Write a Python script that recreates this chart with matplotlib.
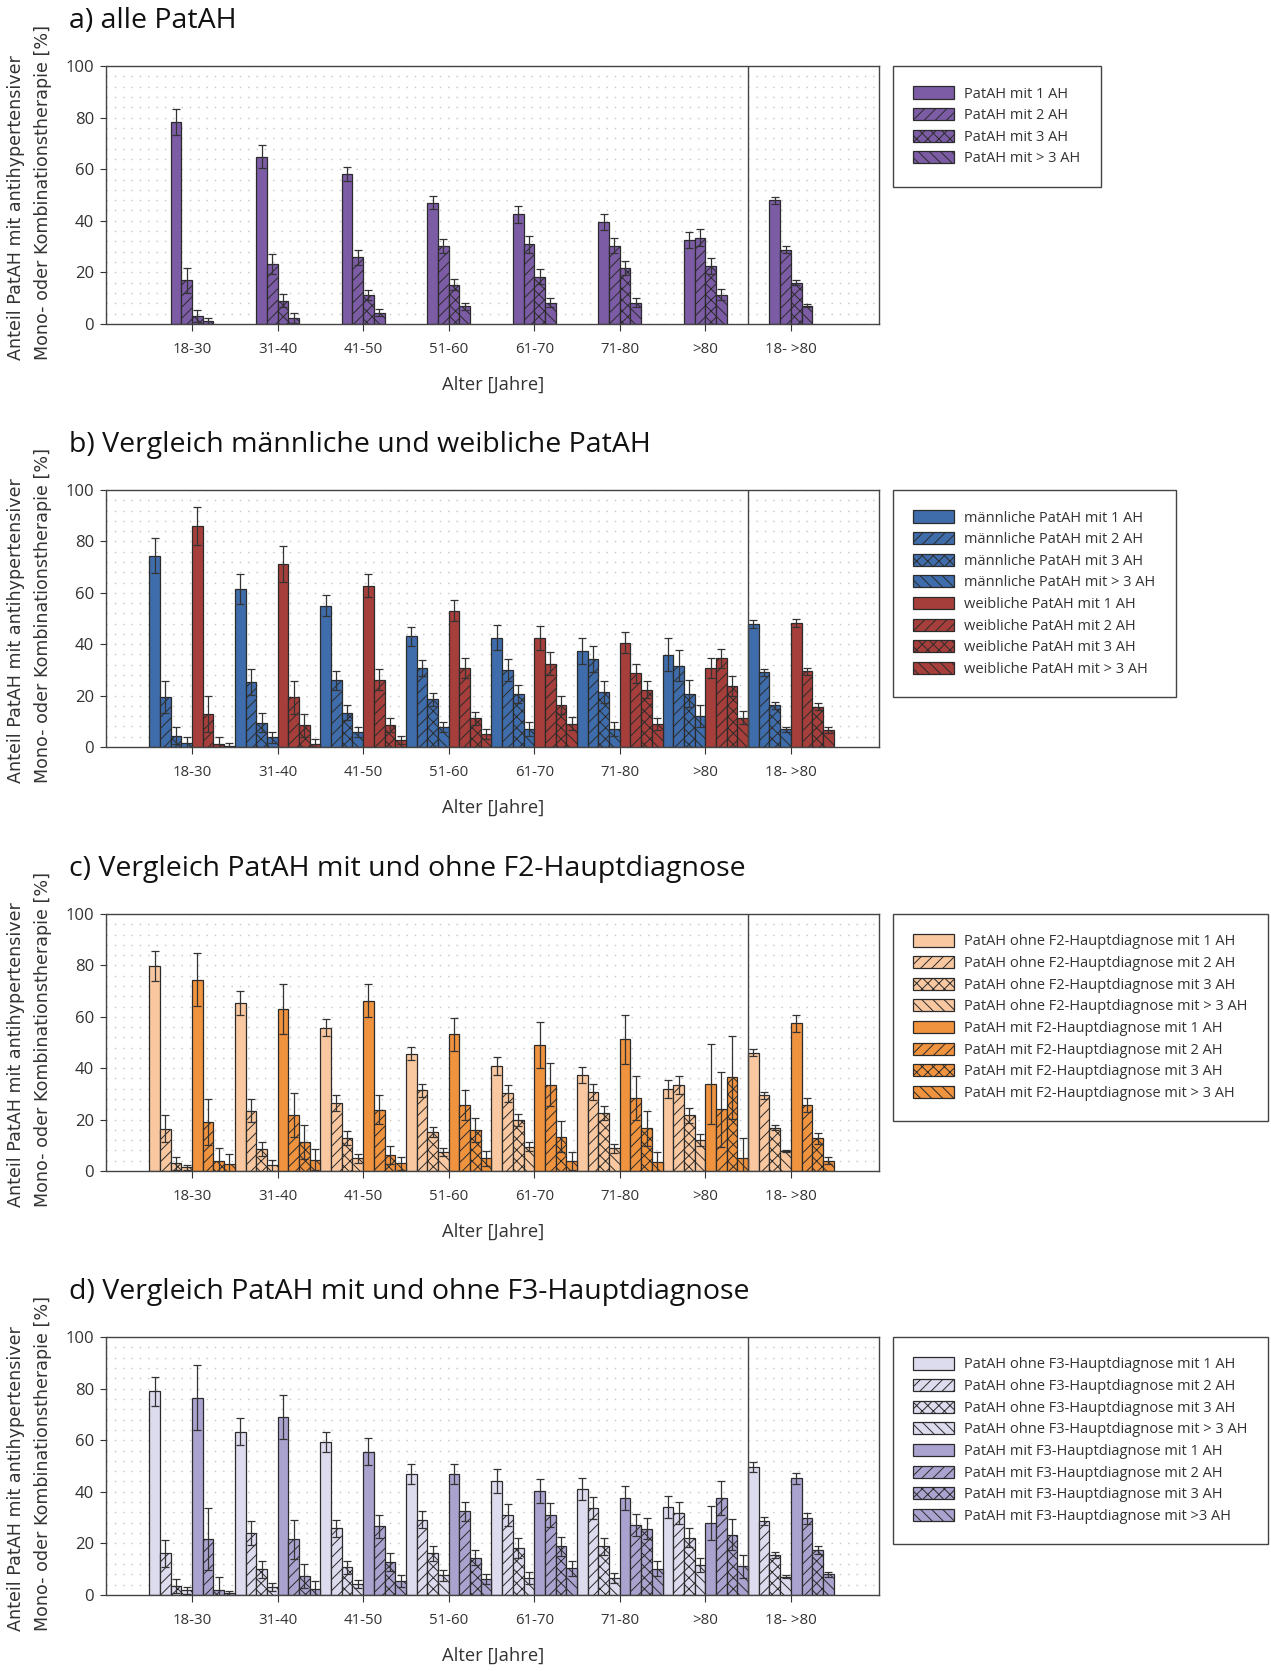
import matplotlib
matplotlib.use('Agg')
import matplotlib.pyplot as plt
import numpy as np

plt.rcParams['font.family'] = ['Open Sans', 'DejaVu Sans']
plt.rcParams['hatch.linewidth'] = 0.7

age_groups = ['18-30', '31-40', '41-50', '51-60', '61-70', '71-80', '>80', '18- >80']

# a) alle PatAH -- rows: 1 AH, 2 AH, 3 AH, >3 AH
a_vals = [
    [78.4, 64.9, 58.2, 47.0, 42.5, 39.4, 32.5, 47.9],
    [16.9, 23.2, 25.8, 30.3, 31.0, 30.4, 33.5, 28.8],
    [3.2, 9.1, 11.2, 15.2, 18.4, 21.7, 22.6, 16.0],
    [1.0, 2.3, 4.4, 6.8, 8.2, 8.2, 11.4, 7.1],
]
a_err = [
    [5.1, 4.3, 2.8, 2.6, 3.3, 3.1, 3.2, 1.2],
    [4.8, 3.8, 2.8, 2.6, 3.3, 3.0, 3.3, 1.3],
    [2.3, 2.6, 1.9, 2.1, 2.8, 2.6, 3.1, 0.9],
    [1.3, 2.0, 1.3, 1.3, 1.8, 1.8, 2.2, 0.7],
]
a_labels = ['PatAH mit 1 AH', 'PatAH mit 2 AH', 'PatAH mit 3 AH', 'PatAH mit > 3 AH']

# b) maennlich (4 rows) then weiblich (4 rows)
b_vals = [
    [74.5, 61.5, 55.0, 43.0, 42.6, 37.3, 35.9, 47.9],
    [19.3, 25.3, 25.9, 30.7, 29.8, 34.2, 31.7, 29.0],
    [4.4, 9.5, 13.3, 18.5, 20.7, 21.4, 20.7, 16.3],
    [1.6, 3.8, 5.8, 7.9, 7.1, 7.1, 12.0, 6.9],
    [86.0, 71.1, 62.8, 53.0, 42.4, 40.5, 30.8, 48.2],
    [13.0, 19.4, 26.2, 30.8, 32.4, 28.6, 34.5, 29.4],
    [1.2, 8.4, 8.5, 11.1, 16.3, 22.3, 23.6, 15.7],
    [0.5, 1.3, 2.7, 5.1, 9.1, 8.8, 11.4, 6.6],
]
b_err = [
    [6.7, 5.7, 4.1, 3.6, 4.7, 5.1, 6.5, 1.6],
    [6.2, 5.0, 3.6, 3.0, 4.3, 5.0, 6.1, 1.3],
    [3.4, 3.7, 2.9, 2.7, 3.5, 4.4, 5.2, 1.4],
    [2.2, 2.2, 2.0, 1.9, 2.7, 2.7, 4.3, 0.9],
    [7.5, 7.0, 4.6, 4.1, 4.5, 4.1, 3.9, 1.7],
    [7.0, 6.4, 4.1, 3.8, 4.4, 3.7, 3.8, 1.4],
    [2.7, 4.6, 2.8, 2.5, 3.6, 3.3, 3.9, 1.4],
    [1.0, 1.8, 1.4, 1.9, 2.6, 2.3, 2.5, 1.3],
]
b_labels = ['männliche PatAH mit 1 AH', 'männliche PatAH mit 2 AH',
            'männliche PatAH mit 3 AH', 'männliche PatAH mit > 3 AH',
            'weibliche PatAH mit 1 AH', 'weibliche PatAH mit 2 AH',
            'weibliche PatAH mit 3 AH', 'weibliche PatAH mit > 3 AH']

# c) ohne F2 (4 rows) then mit F2 (4 rows)
c_vals = [
    [79.9, 65.3, 55.7, 45.7, 40.9, 37.4, 31.9, 46.1],
    [16.5, 23.4, 26.4, 31.4, 30.3, 30.9, 33.5, 29.5],
    [3.0, 8.7, 12.9, 15.3, 19.9, 22.5, 21.7, 16.9],
    [1.4, 2.2, 4.9, 7.4, 9.4, 8.8, 12.1, 7.8],
    [74.5, 62.9, 66.2, 53.2, 49.0, 51.3, 33.9, 57.4],
    [19.0, 21.7, 23.8, 25.7, 33.5, 28.4, 24.0, 25.7],
    [3.9, 11.2, 6.2, 16.0, 13.4, 16.6, 36.4, 12.7],
    [2.6, 4.3, 3.0, 4.9, 3.9, 3.6, 4.9, 4.0],
]
c_err = [
    [5.8, 4.7, 3.3, 2.7, 3.6, 3.2, 3.5, 1.3],
    [5.2, 4.5, 3.0, 2.6, 3.3, 3.1, 3.6, 1.4],
    [2.6, 2.7, 2.6, 2.0, 2.2, 2.6, 3.0, 1.0],
    [1.0, 2.1, 1.6, 1.4, 1.8, 1.7, 2.3, 0.5],
    [10.3, 9.7, 6.4, 6.4, 8.9, 9.5, 15.7, 3.4],
    [9.0, 8.6, 5.7, 5.7, 8.4, 8.7, 14.6, 2.7],
    [4.9, 6.6, 3.5, 4.6, 6.0, 6.9, 16.1, 2.2],
    [4.0, 4.1, 2.6, 3.0, 3.5, 3.8, 8.0, 1.3],
]
c_labels = ['PatAH ohne F2-Hauptdiagnose mit 1 AH', 'PatAH ohne F2-Hauptdiagnose mit 2 AH',
            'PatAH ohne F2-Hauptdiagnose mit 3 AH', 'PatAH ohne F2-Hauptdiagnose mit > 3 AH',
            'PatAH mit F2-Hauptdiagnose mit 1 AH', 'PatAH mit F2-Hauptdiagnose mit 2 AH',
            'PatAH mit F2-Hauptdiagnose mit 3 AH', 'PatAH mit F2-Hauptdiagnose mit > 3 AH']

# d) ohne F3 (4 rows) then mit F3 (4 rows)
d_vals = [
    [78.9, 63.3, 59.3, 47.0, 44.2, 41.0, 34.1, 49.6],
    [16.1, 24.0, 25.8, 29.2, 31.0, 33.7, 31.9, 28.6],
    [3.5, 9.9, 10.7, 16.1, 18.2, 18.9, 22.2, 15.5],
    [1.8, 3.1, 4.4, 7.6, 6.5, 6.7, 11.6, 7.0],
    [76.5, 69.0, 55.6, 47.0, 40.3, 37.5, 27.9, 45.2],
    [21.7, 21.6, 26.6, 32.4, 31.1, 27.0, 37.5, 29.7],
    [1.9, 7.4, 12.8, 14.5, 18.9, 25.7, 23.4, 17.3],
    [0.6, 2.5, 5.3, 6.2, 10.3, 10.2, 11.1, 8.0],
]
d_err = [
    [5.5, 5.3, 3.7, 3.8, 4.8, 4.2, 4.3, 2.0],
    [5.3, 4.7, 3.4, 3.4, 4.4, 4.3, 4.3, 1.5],
    [2.8, 3.3, 2.5, 2.8, 3.8, 3.3, 3.6, 1.3],
    [1.3, 1.7, 1.5, 2.0, 2.4, 2.0, 2.7, 0.6],
    [12.6, 8.5, 5.4, 3.9, 4.5, 4.6, 6.5, 2.1],
    [12.2, 7.6, 4.5, 3.8, 4.6, 4.3, 6.6, 2.1],
    [5.1, 4.7, 3.6, 2.8, 3.6, 4.1, 6.1, 1.6],
    [1.0, 2.9, 2.3, 2.1, 2.9, 3.0, 4.4, 1.0],
]
d_labels = ['PatAH ohne F3-Hauptdiagnose mit 1 AH', 'PatAH ohne F3-Hauptdiagnose mit 2 AH',
            'PatAH ohne F3-Hauptdiagnose mit 3 AH', 'PatAH ohne F3-Hauptdiagnose mit > 3 AH',
            'PatAH mit F3-Hauptdiagnose mit 1 AH', 'PatAH mit F3-Hauptdiagnose mit 2 AH',
            'PatAH mit F3-Hauptdiagnose mit 3 AH', 'PatAH mit F3-Hauptdiagnose mit >3 AH']

hatches = ['', '///', 'xxx', '\\\\\\']
edge = '#2b2b2b'
W, H = 1271, 1671

fig = plt.figure(figsize=(W / 100, H / 100), dpi=100)


def panel(top, bottom, title, vals, errs, cols, labels):
    ax = fig.add_axes([106.5 / W, 1 - bottom / H, 772.5 / W, (bottom - top) / H])
    x = np.arange(len(age_groups))
    n = len(vals)
    w = 0.125
    for k in range(n):
        ax.bar(x + (k - (n - 1) / 2) * w, vals[k], w, yerr=errs[k],
               color=cols[k // 4], edgecolor=edge, linewidth=0.9,
               hatch=hatches[k % 4], label=labels[k],
               error_kw=dict(ecolor='#333333', elinewidth=0.9, capsize=3.2, capthick=0.9))
    ax.axvline(6.5, color='#444444', lw=1)
    ax.set_xlim(-1.0, 8.03)
    ax.set_ylim(0, 100)
    ax.set_xticks(x)
    ax.set_xticklabels(age_groups, fontsize=10.8, color='#333333')
    ax.set_yticks(np.arange(0, 101, 20))
    ax.set_yticks(np.arange(4, 100, 4), minor=True)
    ax.tick_params(axis='y', labelsize=12, length=4, pad=5, colors='#333333')
    ax.tick_params(axis='x', length=5, pad=8, colors='#333333')
    ax.tick_params(which='minor', length=0)
    ax.yaxis.grid(True, which='both', linestyle=(0, (1, 5)), color='#c4c4c4', lw=1)
    ax.set_axisbelow(True)
    for s in ax.spines.values():
        s.set_color('#444444')
        s.set_linewidth(1)

    fig.text(69 / W, 1 - (top - 45) / H, title, fontsize=20.5, va='center', color='#111111')
    ylab_y = 1 - (bottom + 36) / H
    fig.text(16 / W, ylab_y, 'Anteil PatAH mit antihypertensiver', rotation=90,
             ha='center', va='bottom', fontsize=12.6, family='DejaVu Sans', color='#333333')
    fig.text(43 / W, ylab_y, 'Mono- oder Kombinationstherapie [%]', rotation=90,
             ha='center', va='bottom', fontsize=12.6, family='DejaVu Sans', color='#333333')
    fig.text(492.7 / W, 1 - (bottom + 61) / H, 'Alter [Jahre]', ha='center', va='center',
             fontsize=13.2, color='#333333')

    leg = ax.legend(loc='upper left', bbox_to_anchor=(893 / W, 1 - top / H),
                    bbox_transform=fig.transFigure, fontsize=10.5, frameon=True,
                    fancybox=False, framealpha=1, edgecolor='#444444',
                    borderpad=1.4, borderaxespad=0, handlelength=2.8, handleheight=0.9,
                    handletextpad=0.7, labelspacing=0.45, labelcolor='#333333')
    leg.get_frame().set_linewidth(1)
    return ax


panel(66, 324, 'a) alle PatAH', a_vals, a_err, ['#7d5ca6'], a_labels)
panel(490, 747, 'b) Vergleich männliche und weibliche PatAH', b_vals, b_err,
      ['#3f6dab', '#a63f3b'], b_labels)
panel(914, 1171, 'c) Vergleich PatAH mit und ohne F2-Hauptdiagnose', c_vals, c_err,
      ['#f9c8a0', '#f0933f'], c_labels)
panel(1337, 1595, 'd) Vergleich PatAH mit und ohne F3-Hauptdiagnose', d_vals, d_err,
      ['#dddbee', '#aaa3cf'], d_labels)

fig.savefig('out.png', dpi=100)
